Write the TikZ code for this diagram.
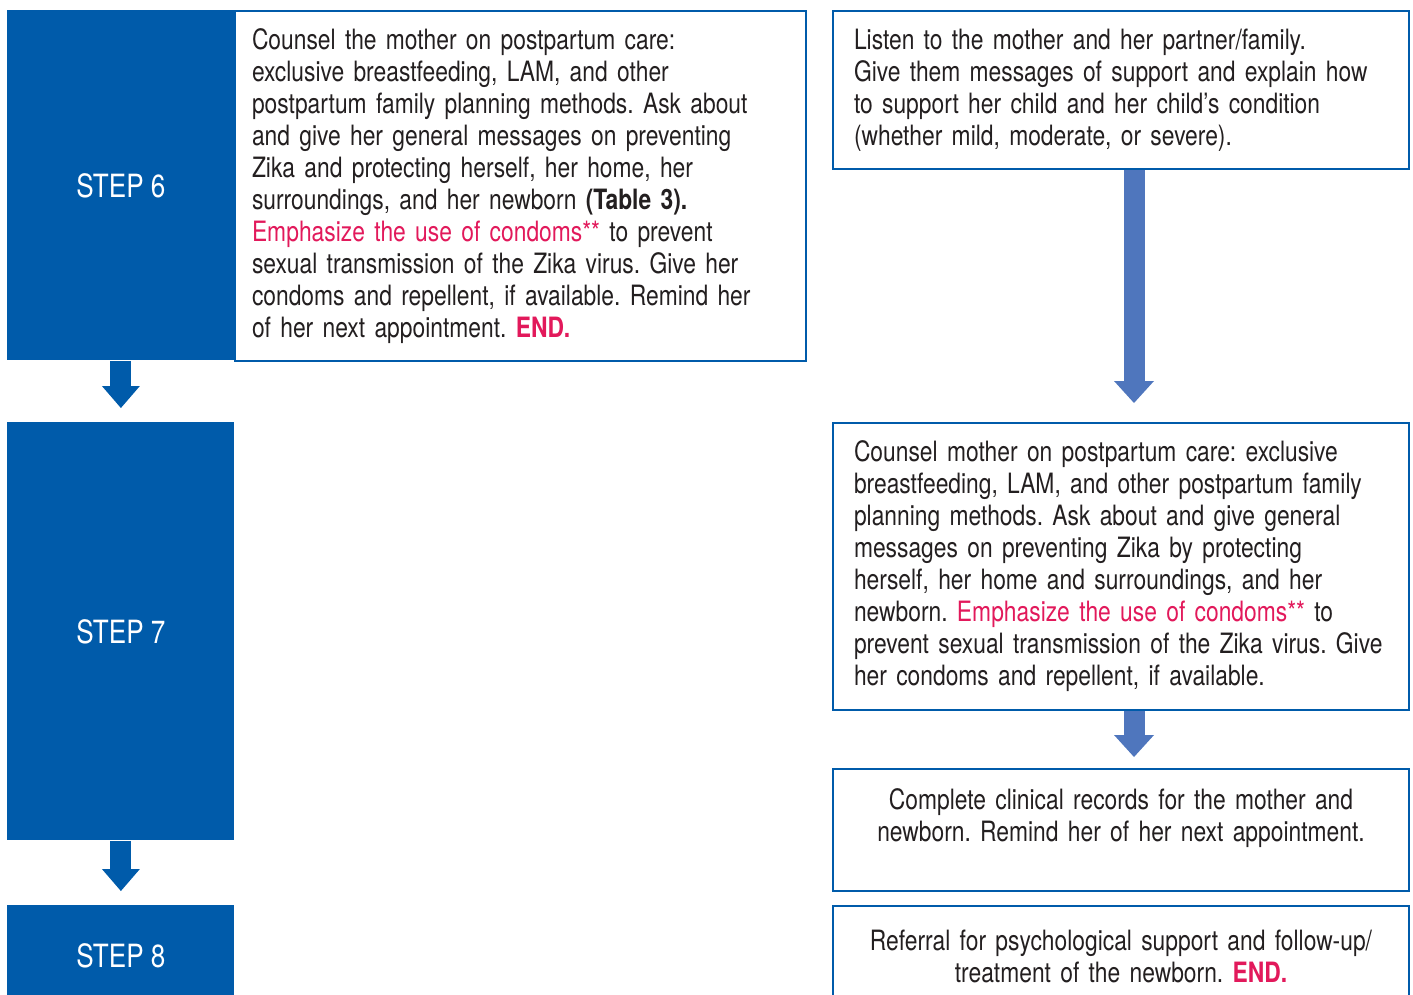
\documentclass[tikz,border=0pt]{standalone}
\usepackage{fontspec}
\setmainfont{TeX Gyre Heros}[FakeStretch=0.815]
\usetikzlibrary{arrows.meta}
\frenchspacing

\definecolor{stepblue}{RGB}{0,91,170}
\definecolor{flowblue}{RGB}{79,118,189}
\definecolor{warnred}{RGB}{226,25,91}
\definecolor{bodytext}{RGB}{35,31,32}
\newcommand{\warn}[1]{\textcolor{warnred}{#1}}

\tikzset{
	stepbox/.style={fill=stepblue, text=white, anchor=north west, inner sep=0pt,
		minimum width=113.5pt, font=\fontsize{16}{18}\selectfont},
	infobox/.style={draw=stepblue, line width=1pt, fill=white, text=bodytext,
		anchor=north west, align=left, font=\fontsize{14}{16}\selectfont},
	leftbox/.style={infobox, minimum width=285.5pt, inner xsep=8.5pt, text width=268.5pt},
	rightbox/.style={infobox, minimum width=288pt, inner xsep=10.5pt, text width=267pt},
	midbox/.style={infobox, minimum width=288pt, align=center, inner xsep=4pt, text width=280pt},
	steparrow/.style={draw=stepblue, line width=10.5pt, shorten >=7pt,
		-{Triangle[width=19pt,length=11pt,line width=0pt]}},
	flowarrow/.style={draw=flowblue, line width=10.5pt,
		-{Triangle[width=20pt,length=11pt,line width=0pt]}},
}

\begin{document}
\begin{tikzpicture}[x=0.5pt,y=-0.5pt]
	\useasboundingbox (0,0) rectangle (1413,995);
	\clip (0,0) rectangle (1413,995);
	% left column: steps
	\node[stepbox, minimum height=175pt] (s6) at (7,10) {STEP 6};
	\node[stepbox, minimum height=209pt] (s7) at (7,422) {STEP 7};
	\node[stepbox, minimum height=50pt] (s8) at (7,905) {STEP 8};
	\node[leftbox, minimum height=175pt] (t6) at (234,10) {Counsel the mother on postpartum care:\\
		exclusive breastfeeding, LAM, and other\\
		postpartum family planning methods. Ask about\\
		and give her general messages on preventing\\
		Zika and protecting herself, her home, her\\
		surroundings, and her newborn \textbf{(Table 3).}\\
		\warn{Emphasize the use of condoms**} to prevent\\
		sexual transmission of the Zika virus. Give her\\
		condoms and repellent, if available. Remind her\\
		of her next appointment. \warn{\textbf{END.}}};
	\draw[steparrow] (s6.south) -- (s7.north);
	\draw[steparrow] (s7.south) -- (s8.north);
	% right column
	\node[rightbox, minimum height=79pt] (listen) at (832,10) {Listen to the mother and her partner/family.\\
		Give them messages of support and explain how\\
		to support her child and her child's condition\\
		(whether mild, moderate, or severe).};
	\node[rightbox, minimum height=143.5pt] (counsel) at (832,422) {Counsel mother on postpartum care: exclusive\\
		breastfeeding, LAM, and other postpartum family\\
		planning methods. Ask about and give general\\
		messages on preventing Zika by protecting\\
		herself, her home and surroundings, and her\\
		newborn. \warn{Emphasize the use of condoms**} to\\
		prevent sexual transmission of the Zika virus. Give\\
		her condoms and repellent, if available.};
	\node[midbox, minimum height=61pt, text depth=31pt] (records) at (832,768) {Complete clinical records for the mother and\\
		newborn. Remind her of her next appointment.};
	\node[midbox, minimum height=50pt] (refer) at (832,905) {Referral for psychological support and follow-up/\\
		treatment of the newborn. \warn{\textbf{END.}}};
	\draw[flowarrow, shorten >=9.5pt] ([xshift=6.5pt]listen.south) -- ([xshift=6.5pt]counsel.north);
	\draw[flowarrow, shorten >=5.5pt] ([xshift=6.5pt]counsel.south) -- ([xshift=6.5pt]records.north);
\end{tikzpicture}
\end{document}
